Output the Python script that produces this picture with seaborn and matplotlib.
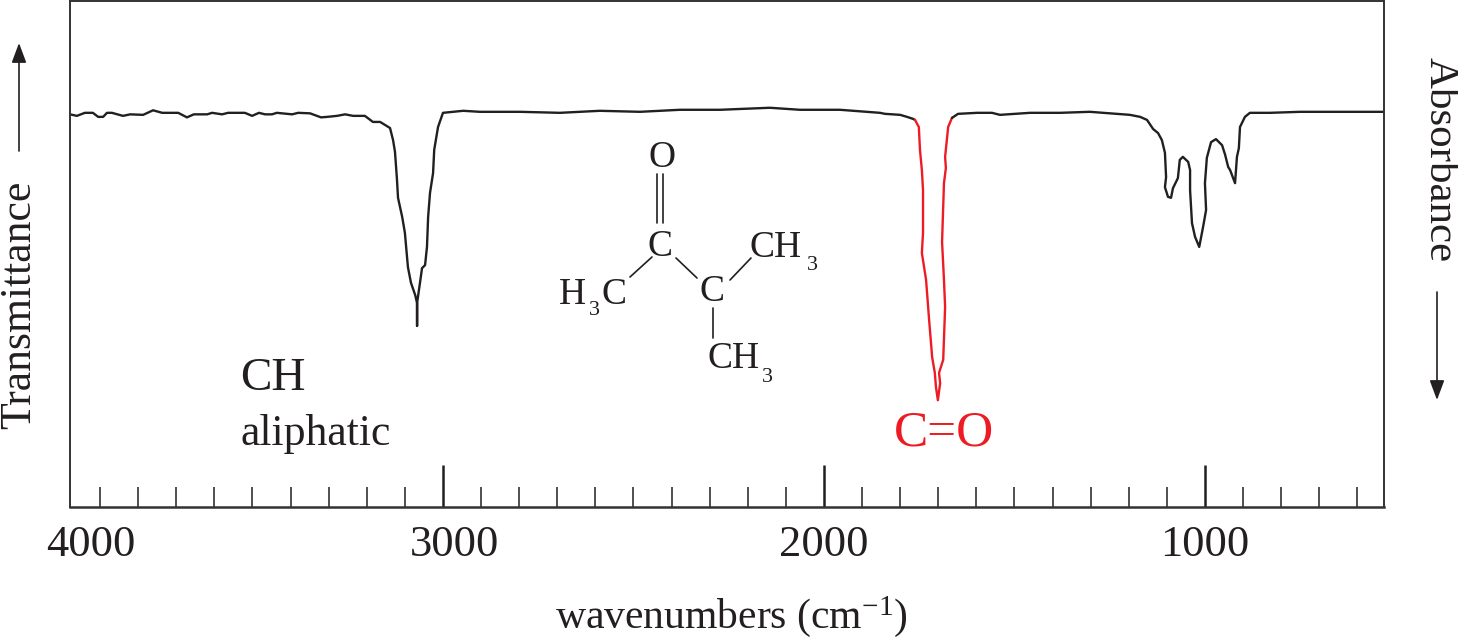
import pandas as pd
import matplotlib.pyplot as plt
import seaborn as sns
from matplotlib.lines import Line2D
from matplotlib.patches import FancyArrowPatch
from matplotlib.ticker import FixedLocator
from matplotlib.transforms import ScaledTranslation

# spectrum: wavenumber (cm-1) and transmittance (%)
wn_left = [3979, 3961, 3940, 3919, 3905, 3892, 3882, 3869, 3840, 3821, 3787, 3761, 3737,
           3695, 3672, 3654, 3619, 3606, 3580, 3564, 3520, 3501, 3483, 3467, 3449, 3436,
           3396, 3380, 3349, 3320, 3304, 3278, 3257, 3236, 3205, 3184, 3165, 3139, 3131,
           3126, 3121, 3118, 3107, 3100, 3092, 3084, 3073, 3068, 3068, 3068, 3060, 3055,
           3047, 3042, 3039, 3034, 3026, 3023, 3013, 3000, 2947, 2903, 2798, 2693, 2588,
           2483, 2378, 2273, 2142, 2063, 1958, 1853, 1840, 1800, 1782, 1766, 1761]
t_left = [77.6, 77.3, 77.9, 77.9, 77.1, 77.1, 77.9, 77.9, 77.3, 77.6, 77.5, 78.4, 77.9,
          77.9, 77.0, 77.6, 77.6, 77.9, 77.6, 77.9, 77.9, 77.3, 77.9, 77.6, 77.6, 77.9,
          77.6, 77.9, 77.8, 77.0, 77.1, 77.3, 77.6, 77.3, 77.3, 76.1, 76.1, 74.9, 72.5,
          70.2, 65.0, 61.1, 57.3, 54.2, 47.4, 44.3, 41.9, 40.3, 35.8, 40.3, 44.5, 47.2,
          47.8, 51.4, 57.3, 62.1, 66.0, 70.6, 75.1, 77.9, 78.3, 78.1, 78.1, 77.9, 78.3,
          78.1, 78.5, 78.5, 78.9, 78.5, 78.5, 77.9, 77.7, 77.5, 77.1, 76.7, 76.5]

wn_carbonyl = [1761, 1751, 1748, 1743, 1740, 1740, 1743, 1732, 1724, 1716, 1709, 1706, 1701,
               1695, 1698, 1687, 1682, 1685, 1690, 1685, 1680, 1682, 1674, 1664]
t_carbonyl = [76.5, 75.1, 70.6, 66.6, 62.6, 54.2, 50.2, 44.9, 37.0, 29.6, 26.5, 23.7, 21.1,
              24.5, 26.5, 29.1, 39.5, 44.9, 52.4, 64.0, 67.0, 69.2, 75.1, 76.9]

wn_right = [1664, 1648, 1598, 1559, 1538, 1459, 1380, 1302, 1197, 1170, 1152, 1136, 1123,
            1113, 1105, 1102, 1105, 1097, 1089, 1084, 1071, 1066, 1058, 1044, 1039, 1039,
            1034, 1026, 1015, 1005, 997, 1000, 995, 984, 971, 955, 947, 939, 934, 921, 916,
            911, 908, 895, 882, 829, 750, 645, 530]
t_right = [76.9, 77.7, 77.9, 77.9, 77.5, 77.9, 77.9, 78.1, 77.5, 77.1, 76.5, 74.7, 73.9,
           72.5, 70.0, 65.2, 63.2, 61.3, 61.1, 63.0, 65.0, 68.6, 69.2, 68.2, 66.6, 62.6,
           56.1, 53.4, 51.4, 55.3, 58.7, 64.0, 69.0, 72.1, 72.7, 71.5, 69.6, 67.2, 66.6,
           64.0, 69.2, 70.9, 75.1, 77.1, 77.9, 77.9, 78.1, 78.1, 78.1]

major_ticks = [3000, 2000, 1000]
major_labels = ['3000', '2000', '1000']
minor_ticks = [3900, 3800, 3700, 3600, 3500, 3400, 3300, 3200, 3100,
               2900, 2800, 2700, 2600, 2500, 2400, 2300, 2200, 2100,
               1900, 1800, 1700, 1600, 1500, 1400, 1300, 1200, 1100,
               900, 800, 700, 600]

INK = '#231f20'
RED = '#ed1c24'
W, H = 1458, 639
SERIF = 'Liberation Serif'

sns.set_theme(style='white')
plt.rcParams['font.family'] = SERIF
plt.rcParams['mathtext.fontset'] = 'custom'
plt.rcParams['mathtext.rm'] = SERIF
plt.rcParams['mathtext.default'] = 'rm'

bands = pd.concat([
    pd.DataFrame({'wn': wn_left, 't': t_left, 'band': 'left'}),
    pd.DataFrame({'wn': wn_carbonyl, 't': t_carbonyl, 'band': 'carbonyl'}),
    pd.DataFrame({'wn': wn_right, 't': t_right, 'band': 'right'}),
])

fig = plt.figure(figsize=(W / 100, H / 100), dpi=100)
ax = fig.add_axes([70 / W, 1 - 507 / H, 1314 / W, 506 / H])

sns.lineplot(data=bands, x='wn', y='t', hue='band',
             palette={'left': INK, 'carbonyl': RED, 'right': INK},
             sort=False, estimator=None, legend=False, linewidth=1.7, ax=ax)

ax.set_xlim(3979, 530)
ax.set_ylim(0, 100)
ax.set_xlabel('')
ax.set_ylabel('')
ax.set_yticks([])
ax.xaxis.set_major_locator(FixedLocator(major_ticks))
ax.xaxis.set_minor_locator(FixedLocator(minor_ticks))
ax.set_xticklabels(major_labels)
ax.tick_params(axis='x', which='major', direction='in', bottom=True, length=30, width=1.8,
               color=INK, labelsize=32, labelcolor=INK, pad=13)
ax.tick_params(axis='x', which='minor', direction='in', bottom=True, length=14.5, width=1.1,
               color=INK)
for spine in ax.spines.values():
    spine.set_color('#333333')
    spine.set_linewidth(1.4)
ax.spines['bottom'].set_linewidth(1.8)

# the 3000 label sits a little right of its tick in the original
lab3000 = ax.get_xticklabels()[0]
lab3000.set_transform(lab3000.get_transform() + ScaledTranslation(12 / 100, 0, fig.dpi_scale_trans))


def put(x, y, s, size=27, color=INK, **kw):
    """Text placed by reference pixel position."""
    kw.setdefault('ha', 'center')
    kw.setdefault('va', 'center')
    fig.text(x / W, 1 - y / H, s, fontsize=size, color=color, **kw)


def bond(x0, y0, x1, y1):
    fig.add_artist(Line2D([x0 / W, x1 / W], [1 - y0 / H, 1 - y1 / H], color=INK, lw=1.2))


def arrow(x, y0, y1):
    fig.add_artist(FancyArrowPatch((x / W, 1 - y0 / H), (x / W, 1 - y1 / H),
                                   transform=fig.transFigure, arrowstyle='-|>,head_length=0.75,head_width=0.28',
                                   mutation_scale=16, color=INK, lw=1.2,
                                   shrinkA=0, shrinkB=0))


put(91, 525, '4000', size=32, va='top')
put(731, 617, 'wavenumbers (cm$^{-1}$)', size=30)
put(19, 305, 'Transmittance', size=31.5, rotation=90)
put(1440, 160, 'Absorbance', size=31, rotation=270)
arrow(19, 151, 43)
arrow(1437, 292, 400)

put(240, 379, 'CH', size=34, ha='left')
put(240, 434, 'aliphatic', size=31.5, ha='left')
put(944, 433, 'C=O', size=37, color=RED)

# 3-methylbutan-2-one structure
put(662, 158, 'O')
put(660, 247, 'C')
put(712, 292, 'C')
put(776, 248, 'CH')
put(812, 266, '3', size=16)
put(572, 295, 'H')
put(594, 311, '3', size=16)
put(614, 295, 'C')
put(734, 359, 'CH')
put(767, 378, '3', size=16)
bond(657, 174, 657, 223)
bond(663, 174, 663, 223)
bond(652, 257, 630, 277)
bond(676, 258, 697, 278)
bond(730, 280, 751, 258)
bond(713, 308, 713, 338)

fig.savefig('out.png', dpi=100)
